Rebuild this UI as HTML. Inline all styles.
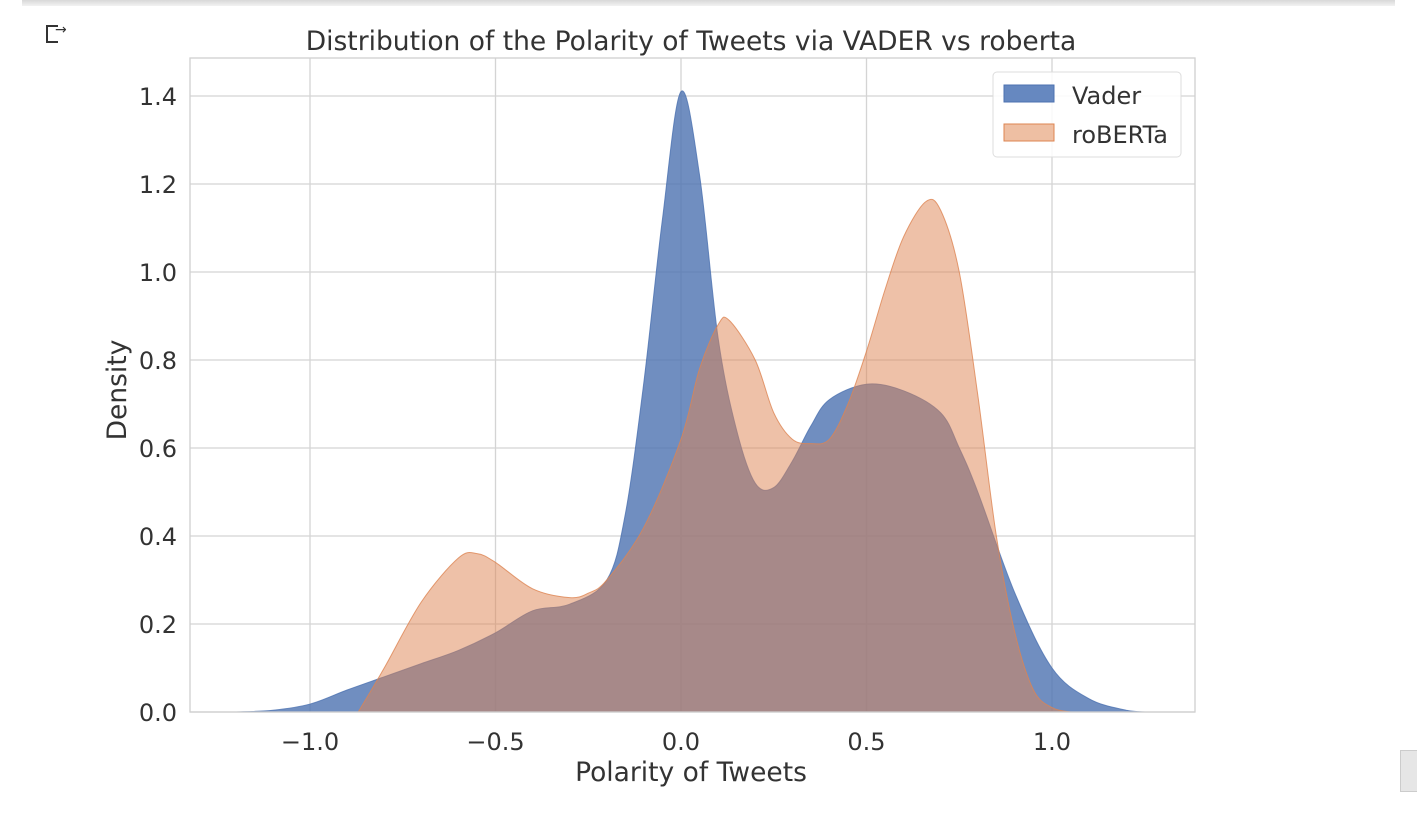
<!DOCTYPE html>
<html><head><meta charset="utf-8"><style>
body{margin:0;background:#fff;width:1417px;height:823px;overflow:hidden;font-family:"DejaVu Sans","Liberation Sans",sans-serif}
</style></head><body>
<div style="position:absolute;left:22px;top:0;width:1373px;height:6px;background:linear-gradient(#d8d8d8,#f2f2f2)"></div>
<div style="position:absolute;left:46px;top:25px;width:12px;height:18px;border:2px solid #333;border-right:none;box-sizing:border-box"><span style="position:absolute;left:7px;top:-5px;font-size:14px;color:#333">&#8594;</span></div>
<div style="position:absolute;left:1400px;top:750px;width:17px;height:40px;background:#e6e6e6;border:1px solid #ccc"></div>
<svg id="c" width="1417" height="823" style="position:absolute;left:0;top:0" font-family="DejaVu Sans, Liberation Sans, sans-serif"></svg>
<script>
const vaderX=[-1.2,-1.1,-1.0,-0.9,-0.8,-0.7,-0.6,-0.5,-0.4,-0.3,-0.2,-0.15,-0.1,-0.05,0.0,0.05,0.1,0.15,0.2,0.25,0.3,0.35,0.4,0.5,0.6,0.7,0.75,0.8,0.9,1.0,1.1,1.2,1.25];
const vaderY=[0,0.004,0.018,0.05,0.08,0.11,0.14,0.18,0.23,0.245,0.3,0.45,0.75,1.12,1.41,1.22,0.85,0.64,0.52,0.51,0.57,0.65,0.71,0.745,0.73,0.68,0.6,0.5,0.27,0.1,0.03,0.004,0];
const robX=[-0.87,-0.8,-0.7,-0.6,-0.55,-0.5,-0.4,-0.3,-0.25,-0.2,-0.1,0.0,0.05,0.1,0.13,0.2,0.25,0.3,0.35,0.4,0.45,0.5,0.55,0.6,0.66,0.7,0.75,0.8,0.85,0.9,0.95,1.0,1.05];
const robY=[0,0.1,0.25,0.35,0.36,0.34,0.28,0.26,0.27,0.3,0.42,0.62,0.78,0.88,0.89,0.8,0.68,0.62,0.61,0.62,0.7,0.82,0.96,1.08,1.16,1.14,1.0,0.72,0.4,0.18,0.05,0.01,0];
const xTicks=[-1.0,-0.5,0.0,0.5,1.0];
const xTickLabels=["\u22121.0","\u22120.5","0.0","0.5","1.0"];
const yTicks=[0,0.2,0.4,0.6,0.8,1.0,1.2,1.4];
const yTickLabels=["0.0","0.2","0.4","0.6","0.8","1.0","1.2","1.4"];
const L=190,R=1195,T=58,B=712;
const xs=v=>681+v*371, ys=v=>712-v*440;
const svg=document.getElementById('c');
const NS='http://www.w3.org/2000/svg';
function mk(t,a,p){const e=document.createElementNS(NS,t);for(const k in a)e.setAttribute(k,a[k]);(p||svg).appendChild(e);return e;}
let e;
xTicks.forEach((t,i)=>{
 e=mk('line',{x1:xs(t),x2:xs(t),y1:T,y2:B,stroke:'#d4d4d4','stroke-width':1.3});
 
 
 e=mk('text',{x:xs(t),y:750,'text-anchor':'middle','font-size':24,fill:'#333'});e.textContent=xTickLabels[i];
 
 
});
yTicks.forEach((t,i)=>{
 e=mk('line',{x1:L,x2:R,y1:ys(t),y2:ys(t),stroke:'#d4d4d4','stroke-width':1.3});
 
 
 e=mk('text',{x:177,y:ys(t)+9,'text-anchor':'end','font-size':24,fill:'#333'});e.textContent=yTickLabels[i];
 
 
});
function path(X,Y){
 const p=X.map((x,i)=>[xs(x),ys(Y[i])]);
 let d='M'+p[0][0]+','+B+' L'+p[0][0]+','+p[0][1];
 for(let i=0;i<p.length-1;i++){
  const p0=p[Math.max(0,i-1)],p1=p[i],p2=p[i+1],p3=p[Math.min(p.length-1,i+2)];
  const c1=[p1[0]+(p2[0]-p0[0])/6,Math.min(B,p1[1]+(p2[1]-p0[1])/6)];
  const c2=[p2[0]-(p3[0]-p1[0])/6,Math.min(B,p2[1]-(p3[1]-p1[1])/6)];
  d+=' C'+c1+' '+c2+' '+p2;
 }
 return d+' L'+p[p.length-1][0]+','+B+' Z';
}
e=mk('path',{d:path(vaderX,vaderY),fill:'#4c72b0','fill-opacity':0.8,stroke:'#4c72b0','stroke-opacity':0.8});


e=mk('path',{d:path(robX,robY),fill:'#dd8452','fill-opacity':0.5,stroke:'#dd8452','stroke-opacity':0.8});


e=mk('rect',{x:L,y:T,width:R-L,height:B-T,fill:'none',stroke:'#d0d0d0','stroke-width':1.3});


e=mk('text',{x:691,y:50,'text-anchor':'middle','font-size':26.5,fill:'#333'});e.textContent='Distribution of the Polarity of Tweets via VADER vs roberta';


e=mk('text',{x:691,y:781,'text-anchor':'middle','font-size':26.5,fill:'#333'});e.textContent='Polarity of Tweets';


e=mk('text',{x:0,y:0,'text-anchor':'middle','font-size':26.5,fill:'#333',transform:'translate(126,390) rotate(-90)'});e.textContent='Density';


const g=mk('g',{});


mk('rect',{x:993,y:72,width:188,height:85,rx:4,fill:'#fff','fill-opacity':0.85,stroke:'#ddd'},g);
e=mk('rect',{x:1004,y:85,width:50,height:17,fill:'#6688c0',stroke:'#4c72b0'},g);


e=mk('text',{x:1072,y:104,'font-size':24,fill:'#333'},g);e.textContent='Vader';


e=mk('rect',{x:1004,y:124,width:50,height:17,fill:'#eebfa3',stroke:'#dd8452'},g);


e=mk('text',{x:1072,y:143,'font-size':24,fill:'#333'},g);e.textContent='roBERTa';


</script>
</body></html>
